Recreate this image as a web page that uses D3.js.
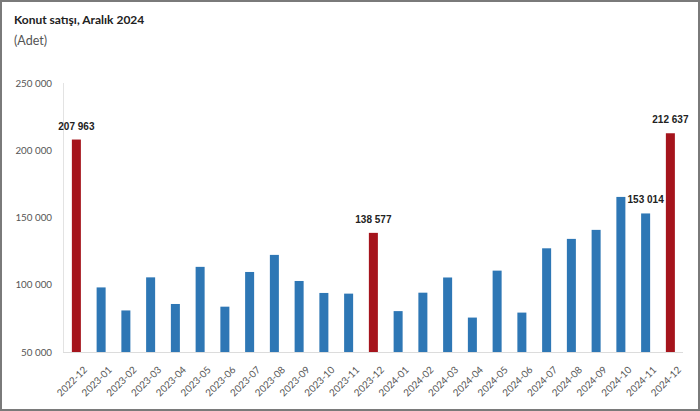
<!DOCTYPE html>
<html><head><meta charset="utf-8">
<script src="https://cdn.jsdelivr.net/npm/d3@7"></script>
<style>
html,body{margin:0;padding:0;background:#fff;}
svg{display:block;}
</style></head>
<body>
<svg id="c" width="700" height="411"></svg>
<script>
const months = ["2022-12","2023-01","2023-02","2023-03","2023-04","2023-05","2023-06","2023-07","2023-08","2023-09","2023-10","2023-11","2023-12","2024-01","2024-02","2024-03","2024-04","2024-05","2024-06","2024-07","2024-08","2024-09","2024-10","2024-11","2024-12"];
const sales = [207963,98018,80900,105500,85700,113300,83700,109500,122200,102800,93900,93400,138577,80400,94100,105400,75600,110500,79300,127100,134100,140800,165300,153014,212637];
const highlighted = ["2022-12","2023-12","2024-12"];
const labelled = ["2022-12","2023-12","2024-11","2024-12"];
const yTicks = [50000,100000,150000,200000,250000];

const svg = d3.select("#c");
const W = 700, H = 411;
svg.append("rect").attr("x",1).attr("y",1).attr("width",W-2).attr("height",H-2)
  .attr("fill","#fff").attr("stroke","#7a7a7a").attr("stroke-width",2);

const fmt = v => d3.format(",")(v).replace(/,/g," ");
const sans = "'Lato', 'Open Sans', sans-serif";

const x = d3.scaleBand().domain(months).range([64,682.75]).paddingInner(0.636).paddingOuter(0.318);
const y = d3.scaleLinear().domain([50000,250000]).range([352,83]);

// axis lines
svg.append("line").attr("x1",63.5).attr("x2",63.5).attr("y1",83).attr("y2",352)
  .attr("stroke","#e3e3e3").attr("stroke-width",1);
svg.append("line").attr("x1",63).attr("x2",683).attr("y1",352.5).attr("y2",352.5)
  .attr("stroke","#dcdcdc").attr("stroke-width",1);

// y labels
const yAxis = d3.axisLeft(y).tickValues(yTicks).tickSize(0).tickPadding(11).tickFormat(fmt);
const ga = svg.append("g").attr("transform","translate(63,0)").call(yAxis);
ga.select(".domain").remove();
ga.selectAll("text").attr("font-family",sans).attr("font-size",9.8).attr("fill","#555");

// bars
svg.append("g").selectAll("rect").data(months).join("rect")
  .attr("x",d=>x(d)).attr("width",x.bandwidth())
  .attr("y",(d,i)=>y(sales[i])).attr("height",(d,i)=>y(50000)-y(sales[i]))
  .attr("fill",d=>highlighted.includes(d)?"#a5141c":"#2e77b5");

// value labels
svg.append("g").selectAll("text").data(months.filter(m=>labelled.includes(m))).join("text")
  .attr("x",d=>x(d)+x.bandwidth()/2).attr("y",d=>y(sales[months.indexOf(d)])-10)
  .attr("text-anchor","middle").attr("font-family","'Liberation Sans', Arial, sans-serif")
  .attr("font-weight","bold").attr("font-size",10).attr("fill","#222")
  .text(d=>fmt(sales[months.indexOf(d)]));

// x labels
const xAxis = d3.axisBottom(x).tickSize(0).tickPadding(0);
const gx = svg.append("g").attr("transform","translate(0,352)").call(xAxis);
gx.select(".domain").remove();
gx.selectAll("text")
  .attr("font-family",sans).attr("font-size",9.8).attr("fill","#555")
  .attr("text-anchor","end").attr("dy","0.35em")
  .attr("transform","translate(9,16) rotate(-45)");

// titles
svg.append("text").attr("x",14).attr("y",24).attr("font-family",sans)
  .attr("font-weight","bold").attr("font-size",12).attr("fill","#222").text("Konut satışı, Aralık 2024");
svg.append("text").attr("x",14).attr("y",45).attr("font-family",sans)
  .attr("font-size",12.5).attr("fill","#555").text("(Adet)");
</script>
</body></html>
